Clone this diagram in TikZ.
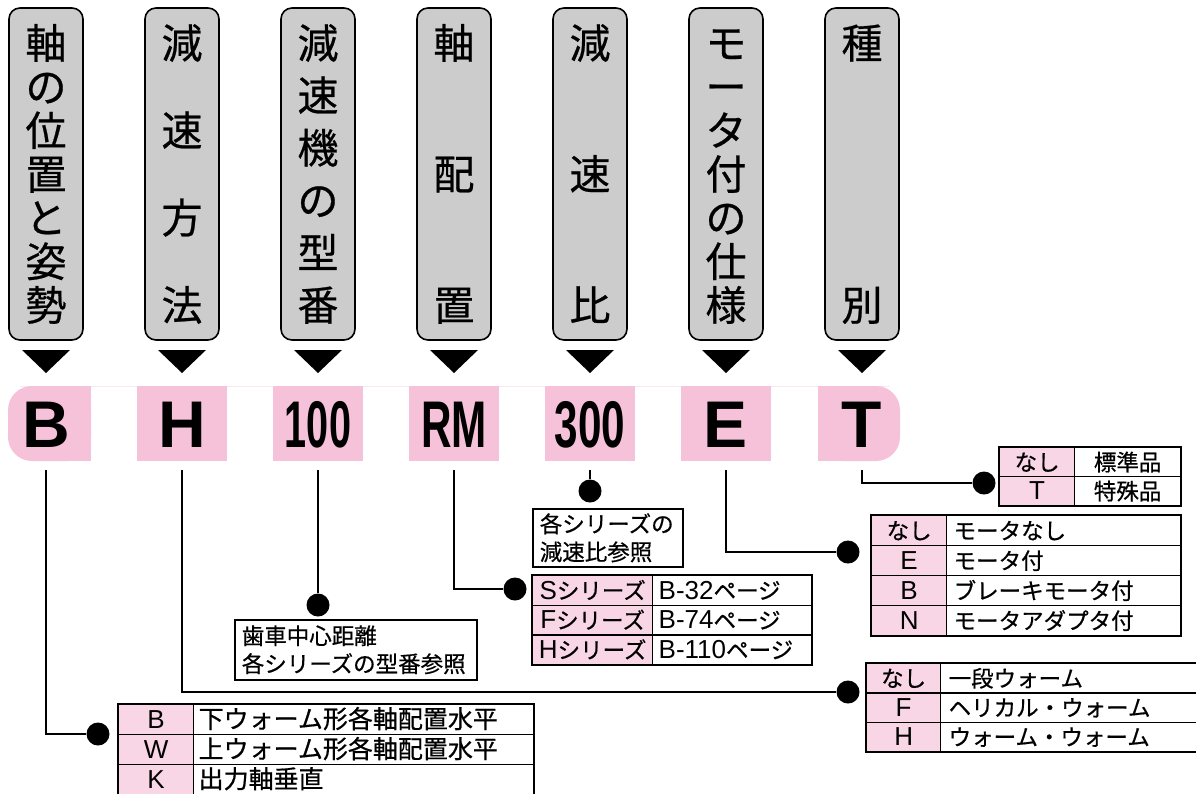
\documentclass[tikz,border=0pt]{standalone}
\usepackage{fontspec}
\usepackage{graphicx}
\setmainfont{Noto Sans CJK JP}[FakeBold=0.5]
\newfontfamily\codefont{Liberation Sans}
\newfontfamily\jpm{Noto Sans CJK JP}[FakeBold=0.6]
\newcommand\lt[1]{{\codefont\fontsize{26}{26}\selectfont #1}}
\definecolor{boxgray}{RGB}{204,204,204}
\definecolor{codepink}{RGB}{246,194,217}
\definecolor{tabpink}{RGB}{249,214,230}
\definecolor{faintpink}{RGB}{252,232,240}
\newcommand\vlabel[4]{%
  \foreach \c [count=\i from 0] in {#4} {\node[vch] (#1\i) at (#2, 43+\i*#3) {\c};}}
\tikzset{
  headbox/.style={draw=black, line width=1.6pt, fill=boxgray, rounded corners=11pt,
    minimum width=74pt, minimum height=332pt, inner sep=0pt},
  vch/.style={font=\jpm\fontsize{41}{41}\selectfont, inner sep=0pt, text height=35pt, text depth=4pt},
  codebox/.style={minimum width=90pt, minimum height=75pt, inner sep=0pt,
    font=\codefont\bfseries\fontsize{66}{66}\selectfont, text height=47pt, text depth=0pt},
  conn/.style={line width=1.6pt},
  dot/.style={circle, fill=black, minimum size=23pt, inner sep=0pt},
  cellc/.style={draw=black, line width=1.3pt, fill=white, inner sep=0pt, anchor=north west,
    font=\jpm\fontsize{22.5}{22.5}\selectfont, text height=20pt, text depth=3pt},
  celll/.style={cellc, align=left, inner xsep=7pt},
  annot/.style={draw=black, line width=1.6pt, fill=white, anchor=north west, align=left,
    inner xsep=7pt, inner ysep=0pt, font=\jpm\fontsize{22.5}{28}\selectfont},
  outer/.style={line width=2pt}
}
\begin{document}
\begin{tikzpicture}[x=1pt,y=-1pt]
\useasboundingbox (0,0) rectangle (1196,793);
\clip (0,0) rectangle (1196,793);

% header boxes
\node[headbox] (h1) at (46,174) {};
\node[headbox] (h2) at (182,174) {};
\node[headbox] (h3) at (318,174) {};
\node[headbox] (h4) at (454,174) {};
\node[headbox] (h5) at (590,174) {};
\node[headbox] (h6) at (726,174) {};
\node[headbox] (h7) at (862,174) {};
\vlabel{ha}{46}{43.667}{軸,の,位,置,と,姿,勢}
\vlabel{hb}{182}{87.333}{減,速,方,法}
\vlabel{hc}{318}{52.4}{減,速,機,の,型,番}
\vlabel{hd}{454}{131}{軸,配,置}
\vlabel{he}{590}{131}{減,速,比}
\vlabel{hf}{726}{43.667}{モ,ー,タ,付,の,仕,様}
\vlabel{hg}{862}{262}{種,別}

% triangles
\foreach \x in {46,182,318,454,590,726,862}
  \fill[black] (\x-24,350) -- (\x+24,350) -- (\x,373) -- cycle;

% code row
\draw[faintpink, line width=0.8pt] (20,386) -- (890,386);
\fill[codepink, rounded corners=24pt] (8,386) rectangle (91,461);
\fill[codepink] (50,386) rectangle (91,461);
\fill[codepink, rounded corners=24pt] (818,386) rectangle (900,461);
\fill[codepink] (818,386) rectangle (860,461);
\node[codebox] (c1) at (46,423.5) {B};
\node[codebox, fill=codepink] (c2) at (182,423.5) {H};
\node[codebox, fill=codepink] (c3) at (318,423.5) {\scalebox{0.6}[1]{100}};
\node[codebox, fill=codepink] (c4) at (454,423.5) {\scalebox{0.64}[1]{RM}};
\node[codebox, fill=codepink] (c5) at (590,423.5) {\scalebox{0.64}[1]{300}};
\node[codebox, fill=codepink] (c6) at (726,423.5) {E};
\node[codebox] (c7) at (862,423.5) {T};

% dots
\node[dot] (d1) at (98,734) {};
\node[dot] (d2) at (848,692) {};
\node[dot] (d3) at (318,605) {};
\node[dot] (d4) at (515,589) {};
\node[dot] (d5) at (590,491) {};
\node[dot] (d6) at (848,552) {};
\node[dot] (d7) at (984,483) {};

% connectors
\draw[conn] ([yshift=-9pt]c1.south) |- (d1);
\draw[conn] ([yshift=-9pt]c2.south) |- (d2);
\draw[conn] ([yshift=-9pt]c3.south) -- (d3);
\draw[conn] ([yshift=-9pt]c4.south) |- (d4);
\draw[conn] ([yshift=-9pt]c5.south) -- (d5);
\draw[conn] ([yshift=-9pt]c6.south) |- (d6);
\draw[conn] ([yshift=-9pt]c7.south) |- (d7);

% T table
\node[cellc, fill=tabpink, minimum width=75, minimum height=29] (ta1) at (999,447) {なし};
\node[cellc, minimum width=106, minimum height=29] (tb1) at (1074,447) {標準品};
\node[cellc, fill=tabpink, minimum width=75, minimum height=29] (ta2) at (999,476) {\lt{T}};
\node[cellc, minimum width=106, minimum height=29] (tb2) at (1074,476) {特殊品};
\draw[outer] (ta1.north west) rectangle (tb2.south east);

% E table
\node[cellc, fill=tabpink, minimum width=75, minimum height=30] (ea1) at (871,515) {なし};
\node[celll, text width=220pt, minimum height=30] (eb1) at (946,515) {モータなし};
\node[cellc, fill=tabpink, minimum width=75, minimum height=30] (ea2) at (871,545) {\lt{E}};
\node[celll, text width=220pt, minimum height=30] (eb2) at (946,545) {モータ付};
\node[cellc, fill=tabpink, minimum width=75, minimum height=30] (ea3) at (871,575) {\lt{B}};
\node[celll, text width=220pt, minimum height=30] (eb3) at (946,575) {ブレーキモータ付};
\node[cellc, fill=tabpink, minimum width=75, minimum height=30] (ea4) at (871,605) {\lt{N}};
\node[celll, text width=220pt, minimum height=30] (eb4) at (946,605) {モータアダプタ付};
\draw[outer] (ea1.north west) rectangle (eb4.south east);

% series annotation and table
\node[annot, text width=136pt, minimum height=58] (n300) at (532,508) {各シリーズの\\減速比参照};
\node[cellc, fill=tabpink, minimum width=120, minimum height=29.7] (sa1) at (532,575) {\lt{S}シリーズ};
\node[celll, text width=147pt, inner xsep=6pt, minimum height=29.7] (sb1) at (652,575) {\lt{B-32}ページ};
\node[cellc, fill=tabpink, minimum width=120, minimum height=29.7] (sa2) at (532,604.7) {\lt{F}シリーズ};
\node[celll, text width=147pt, inner xsep=6pt, minimum height=29.7] (sb2) at (652,604.7) {\lt{B-74}ページ};
\node[cellc, fill=tabpink, minimum width=120, minimum height=29.7] (sa3) at (532,634.4) {\lt{H}シリーズ};
\node[celll, text width=147pt, inner xsep=6pt, minimum height=29.7] (sb3) at (652,634.4) {\lt{B-110}ページ};
\draw[outer] (sa1.north west) rectangle (sb3.south east);

% 100 annotation
\node[annot, text width=228pt, minimum height=60] (n100) at (234,619) {歯車中心距離\\各シリーズの型番参照};

% H table
\node[cellc, fill=tabpink, minimum width=74, minimum height=29.3] (wa1) at (866,663) {なし};
\node[celll, text width=324pt, inner xsep=8pt, minimum height=29.3] (wb1) at (940,663) {一段ウォーム};
\node[cellc, fill=tabpink, minimum width=74, minimum height=29.3] (wa2) at (866,692.3) {\lt{F}};
\node[celll, text width=324pt, inner xsep=8pt, minimum height=29.3] (wb2) at (940,692.3) {ヘリカル・ウォーム};
\node[cellc, fill=tabpink, minimum width=74, minimum height=29.3] (wa3) at (866,721.6) {\lt{H}};
\node[celll, text width=324pt, inner xsep=8pt, minimum height=29.3] (wb3) at (940,721.6) {ウォーム・ウォーム};
\draw[outer] (wa1.north west) rectangle (wb3.south east);

% B table
\node[cellc, fill=tabpink, minimum width=75, minimum height=30, font=\jpm\fontsize{25}{25}\selectfont] (ba1) at (118,704) {\lt{B}};
\node[celll, text width=330pt, inner xsep=5pt, minimum height=30, font=\jpm\fontsize{25}{25}\selectfont] (bb1) at (193,704) {下ウォーム形各軸配置水平};
\node[cellc, fill=tabpink, minimum width=75, minimum height=30, font=\jpm\fontsize{25}{25}\selectfont] (ba2) at (118,734) {\lt{W}};
\node[celll, text width=330pt, inner xsep=5pt, minimum height=30, font=\jpm\fontsize{25}{25}\selectfont] (bb2) at (193,734) {上ウォーム形各軸配置水平};
\node[cellc, fill=tabpink, minimum width=75, minimum height=30, font=\jpm\fontsize{25}{25}\selectfont] (ba3) at (118,764) {\lt{K}};
\node[celll, text width=330pt, inner xsep=5pt, minimum height=30, font=\jpm\fontsize{25}{25}\selectfont] (bb3) at (193,764) {出力軸垂直};
\draw[outer] (ba1.north west) rectangle (bb3.south east);
\end{tikzpicture}
\end{document}
